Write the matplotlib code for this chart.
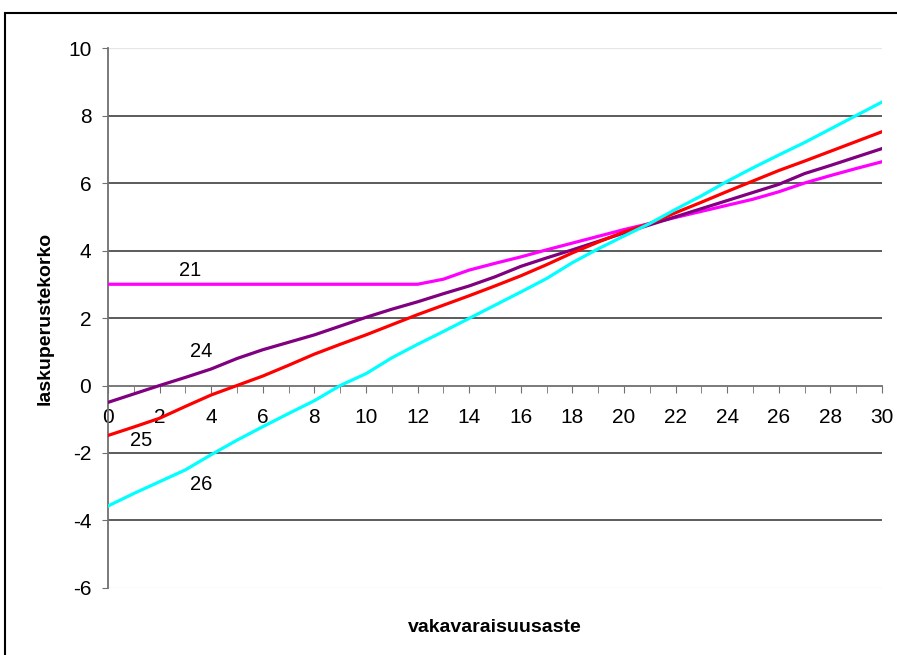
import matplotlib.pyplot as plt
from matplotlib.patches import Rectangle
from matplotlib.ticker import MultipleLocator
import numpy as np

plt.rcParams['font.family'] = ['Liberation Sans', 'DejaVu Sans']
plt.rcParams['axes.unicode_minus'] = False

x = np.arange(0, 31)

# laskuperustekorko by scenario
s21 = [3.0, 3.0, 3.0, 3.0, 3.0, 3.0, 3.0, 3.0, 3.0, 3.0, 3.0, 3.0, 3.0,
       3.15, 3.42, 3.62, 3.81, 4.02, 4.22, 4.42, 4.62, 4.8, 4.98, 5.16,
       5.34, 5.52, 5.74, 6.0, 6.22, 6.43, 6.63]
s24 = [-0.5, -0.25, 0.0, 0.24, 0.49, 0.8, 1.06, 1.28, 1.5, 1.76, 2.02,
       2.26, 2.48, 2.72, 2.95, 3.22, 3.53, 3.78, 4.02, 4.27, 4.52, 4.76,
       5.0, 5.24, 5.48, 5.72, 5.96, 6.28, 6.52, 6.77, 7.02]
s25 = [-1.48, -1.23, -0.97, -0.62, -0.28, 0.0, 0.28, 0.6, 0.93, 1.22, 1.5,
       1.8, 2.1, 2.38, 2.66, 2.95, 3.25, 3.58, 3.93, 4.25, 4.55, 4.8, 5.12,
       5.43, 5.75, 6.06, 6.37, 6.65, 6.94, 7.23, 7.52]
s26 = [-3.57, -3.2, -2.85, -2.5, -2.05, -1.62, -1.22, -0.83, -0.45, 0.0,
       0.35, 0.82, 1.22, 1.6, 1.99, 2.38, 2.77, 3.17, 3.64, 4.05, 4.43, 4.8,
       5.22, 5.62, 6.05, 6.45, 6.83, 7.2, 7.6, 8.0, 8.4]

series = [("21", s21, "#FF00FF", (3.2, 3.42)),
          ("24", s24, "#800080", (3.6, 1.02)),
          ("25", s25, "#FF0000", (1.3, -1.64)),
          ("26", s26, "#00FFFF", (3.6, -2.94))]

fig = plt.figure(figsize=(8.97, 6.55), dpi=100)
ax = fig.add_axes([0.1204, 0.1023, 0.8629, 0.8244])

# horizontal grid
for g in [8, 6, 4, 2, -2, -4]:
    ax.axhline(g, color="#404040", lw=1.2, zorder=1)
for g in [10, -6]:
    ax.axhline(g, color="#e6e6e6", lw=1.0, zorder=1)

for name, ys, col, (lx, ly) in series:
    ax.plot(x, ys, color=col, lw=2.3, zorder=3)
    ax.text(lx, ly, name, fontsize=14.5, ha="center", va="center")

ax.set_xlim(0, 30)
ax.set_ylim(-6, 10)

for s in ["top", "right"]:
    ax.spines[s].set_visible(False)
ax.spines["bottom"].set_position(("data", 0))
ax.spines["bottom"].set_color("#707070")
ax.spines["left"].set_color("#707070")
ax.spines["bottom"].set_linewidth(1.3)
ax.spines["left"].set_linewidth(1.3)

ax.xaxis.set_major_locator(MultipleLocator(2))
ax.xaxis.set_minor_locator(MultipleLocator(1))
ax.yaxis.set_major_locator(MultipleLocator(2))
ax.tick_params(axis="x", which="both", direction="out", length=5,
               color="#707070", labelsize=15, pad=11)
ax.tick_params(axis="y", direction="out", length=4, color="#707070",
               labelsize=15, pad=8)

ax.set_ylabel("laskuperustekorko", fontsize=14, fontweight="bold")
ax.yaxis.set_label_coords(-0.07, 0.5)
fig.text(495 / 897, 1 - 627 / 655, "vakavaraisuusaste", fontsize=14,
         fontweight="bold", ha="center", va="center")

# outer chart frame
fig.patches.append(Rectangle((5 / 897, -0.1), 2.0, 1.1 - 13 / 655,
                             transform=fig.transFigure, fill=False,
                             edgecolor="black", lw=1.5))

fig.savefig("out.png", dpi=100)
